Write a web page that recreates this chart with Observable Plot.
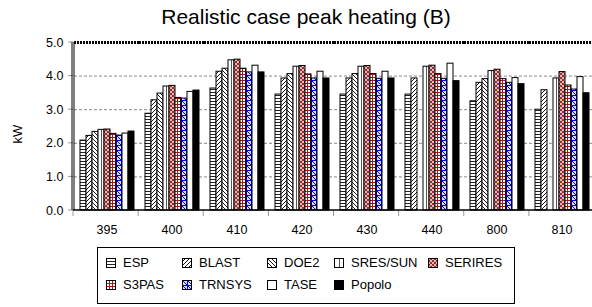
<!DOCTYPE html>
<html><head><meta charset="utf-8">
<script src="https://cdn.jsdelivr.net/npm/d3@7"></script>
<script src="https://cdn.jsdelivr.net/npm/@observablehq/plot@0.6"></script>
<style>
body{margin:0;background:#fff;font-family:"Liberation Sans",Arial,sans-serif;}
#wrap{position:relative;width:592px;height:307px;overflow:hidden;background:#fff;}
#title{position:absolute;left:0;top:5px;width:612px;text-align:center;font-size:21px;color:#000;white-space:nowrap;}
#ylab{position:absolute;left:17px;top:134px;transform:translate(-50%,-50%) rotate(-90deg);font-size:13px;color:#000;}
#chart{position:absolute;left:0;top:35px;}
#legend{position:absolute;left:97px;top:247px;width:416px;height:55px;border:1px solid #000;font-size:13px;color:#000;}
.item{position:absolute;display:flex;align-items:center;white-space:nowrap;}
.item svg{margin-right:7px;}
</style></head>
<body>
<svg width="0" height="0" style="position:absolute">
<defs>
<pattern id="p0" patternUnits="userSpaceOnUse" width="4" height="3"><rect width="4" height="3" fill="#fff"/><path d="M0,0.5H4" stroke="#222" stroke-width="1"/></pattern>
<pattern id="p1" patternUnits="userSpaceOnUse" width="4" height="4"><rect width="4" height="4" fill="#fff"/><path d="M0,4L4,0M-1,1L1,-1M3,5L5,3" stroke="#000" stroke-width="0.9"/></pattern>
<pattern id="p2" patternUnits="userSpaceOnUse" width="4" height="4"><rect width="4" height="4" fill="#fff"/><path d="M0,0L4,4M-1,3L1,5M3,-1L5,1" stroke="#000" stroke-width="0.9"/></pattern>
<pattern id="p3" patternUnits="userSpaceOnUse" width="5" height="5"><rect width="5" height="5" fill="#fff"/><path d="M0.5,0V5" stroke="#555" stroke-width="1"/></pattern>
<pattern id="p4" patternUnits="userSpaceOnUse" width="4" height="4"><rect width="4" height="4" fill="#9e2a2a"/><circle cx="1" cy="1" r="0.9" fill="#fff"/><circle cx="3" cy="3" r="0.9" fill="#fff"/></pattern>
<pattern id="p5" patternUnits="userSpaceOnUse" width="3" height="3"><rect width="3" height="3" fill="#fff"/><path d="M0,0.5H3M0.5,0V3" stroke="#a01818" stroke-width="1"/></pattern>
<pattern id="p6" patternUnits="userSpaceOnUse" width="5" height="5"><rect width="5" height="5" fill="#dcdcff"/><path d="M0,0.5H5M0.5,0V5M0,0L5,5" stroke="#0000ff" stroke-width="1"/></pattern>
</defs>
</svg>
<div id="wrap">
  <div id="title">Realistic case peak heating (B)</div>
  <div id="ylab">kW</div>
  <div id="chart"></div>
  <div id="legend"></div>
</div>
<script>
const categories = ["395", "400", "410", "420", "430", "440", "800", "810"];
const seriesNames = ["ESP", "BLAST", "DOE2", "SRES/SUN", "SERIRES", "S3PAS", "TRNSYS", "TASE", "Popolo"];
const ESP      = [2.08, 2.88, 3.63, 3.45, 3.45, 3.45, 3.25, 3.00];
const BLAST    = [2.22, 3.28, 4.13, 3.93, 3.93, 3.93, 3.80, 3.58];
const DOE2     = [2.34, 3.48, 4.22, 4.06, 4.06, null, 3.91, null];
const SRES_SUN = [2.40, 3.69, 4.47, 4.28, 4.28, 4.28, 4.15, 3.93];
const SERIRES  = [2.41, 3.71, 4.49, 4.30, 4.30, 4.31, 4.19, 4.12];
const S3PAS    = [2.28, 3.35, 4.22, 4.05, 4.06, 4.06, 3.91, 3.72];
const TRNSYS   = [2.23, 3.33, 4.11, 3.93, 3.92, 3.92, 3.80, 3.60];
const TASE     = [2.29, 3.53, 4.31, 4.13, 4.13, 4.37, 3.94, 3.97];
const Popolo   = [2.35, 3.57, 4.11, 3.93, 3.93, 3.85, 3.76, 3.49];
const yTicks = [0, 1, 2, 3, 4, 5];

const seriesValues = [ESP, BLAST, DOE2, SRES_SUN, SERIRES, S3PAS, TRNSYS, TASE, Popolo];
const patternFills = seriesNames.map((_, i) => i < 7 ? `url(#p${i})` : (i === 7 ? "#fff" : "#000"));

const rows = [];
categories.forEach((c, ci) => seriesNames.forEach((s, si) => {
  const v = seriesValues[si][ci];
  if (v != null) rows.push({cat: c, series: s, value: v});
}));

const chart = Plot.plot({
  width: 592,
  height: 210,
  marginTop: 7,
  marginBottom: 35,
  marginLeft: 73,
  marginRight: -2,
  style: {fontFamily: "Liberation Sans, Arial, sans-serif", fontSize: "12.5px", color: "#000", background: "transparent", overflow: "visible"},
  facet: {data: rows, x: "cat"},
  fx: {domain: categories, padding: 0, axis: "bottom", label: null, tickSize: 0, tickPadding: 15},
  x: {domain: seriesNames, axis: null, paddingInner: 0, paddingOuter: 0.4},
  y: {domain: [0, 5], ticks: yTicks, tickFormat: d3.format(".1f"), label: null, tickSize: 0, tickPadding: 11},
  color: {domain: seriesNames, range: patternFills},
  marks: [
    Plot.ruleY(yTicks.filter(d => d > 0 && d < 5), {stroke: "#888", strokeWidth: 1, strokeDasharray: "3,2"}),
    Plot.barY(rows, {x: "series", y: "value", fill: "series", stroke: "#000", strokeWidth: 1}),
    Plot.ruleY([5], {stroke: "#000", strokeWidth: 3, strokeDasharray: "2,1"})
  ]
});
document.getElementById("chart").appendChild(chart);

// axis lines and tick marks drawn from Plot's own scales
const fxS = chart.scale("fx"), yS = chart.scale("y");
const fx = d3.scaleBand(fxS.domain, fxS.range).paddingInner(fxS.paddingInner || 0).paddingOuter(fxS.paddingOuter || 0);
const y = d3.scaleLinear(yS.domain, yS.range);
const g = d3.select(chart).append("g");
const x0 = fx(categories[0]);
const xEnd = fx(categories[categories.length - 1]) + fx.bandwidth();
g.selectAll(".yt").data(yTicks).join("line")
  .attr("x1", x0 - 5).attr("x2", x0).attr("y1", d => y(d)).attr("y2", d => y(d))
  .attr("stroke", "#999");
g.selectAll(".xt").data(categories.map(c => fx(c)).concat([xEnd])).join("line")
  .attr("x1", d => d).attr("x2", d => d).attr("y1", y(0)).attr("y2", y(0) + 6)
  .attr("stroke", "#999");
g.append("line").attr("x1", x0).attr("x2", xEnd).attr("y1", y(0)).attr("y2", y(0)).attr("stroke", "#000").attr("stroke-width", 1.5);
[-1, 1].forEach(o => g.append("line").attr("x1", x0 + o).attr("x2", x0 + o).attr("y1", y(5)).attr("y2", y(0)).attr("stroke", "#000").attr("stroke-width", 1));

// legend
const colStarts = [8, 84, 169, 236, 330];
const legend = document.getElementById("legend");
seriesNames.forEach((s, i) => {
  const row = Math.floor(i / 5), col = i % 5;
  const item = document.createElement("div");
  item.className = "item";
  item.style.left = colStarts[col] + "px";
  item.style.top = (7 + row * 22) + "px";
  item.innerHTML = `<svg width="10" height="10"><rect x="0.5" y="0.5" width="9" height="9" fill="${patternFills[i]}" stroke="#000"/></svg><span>${s}</span>`;
  legend.appendChild(item);
});
</script>
</body></html>
